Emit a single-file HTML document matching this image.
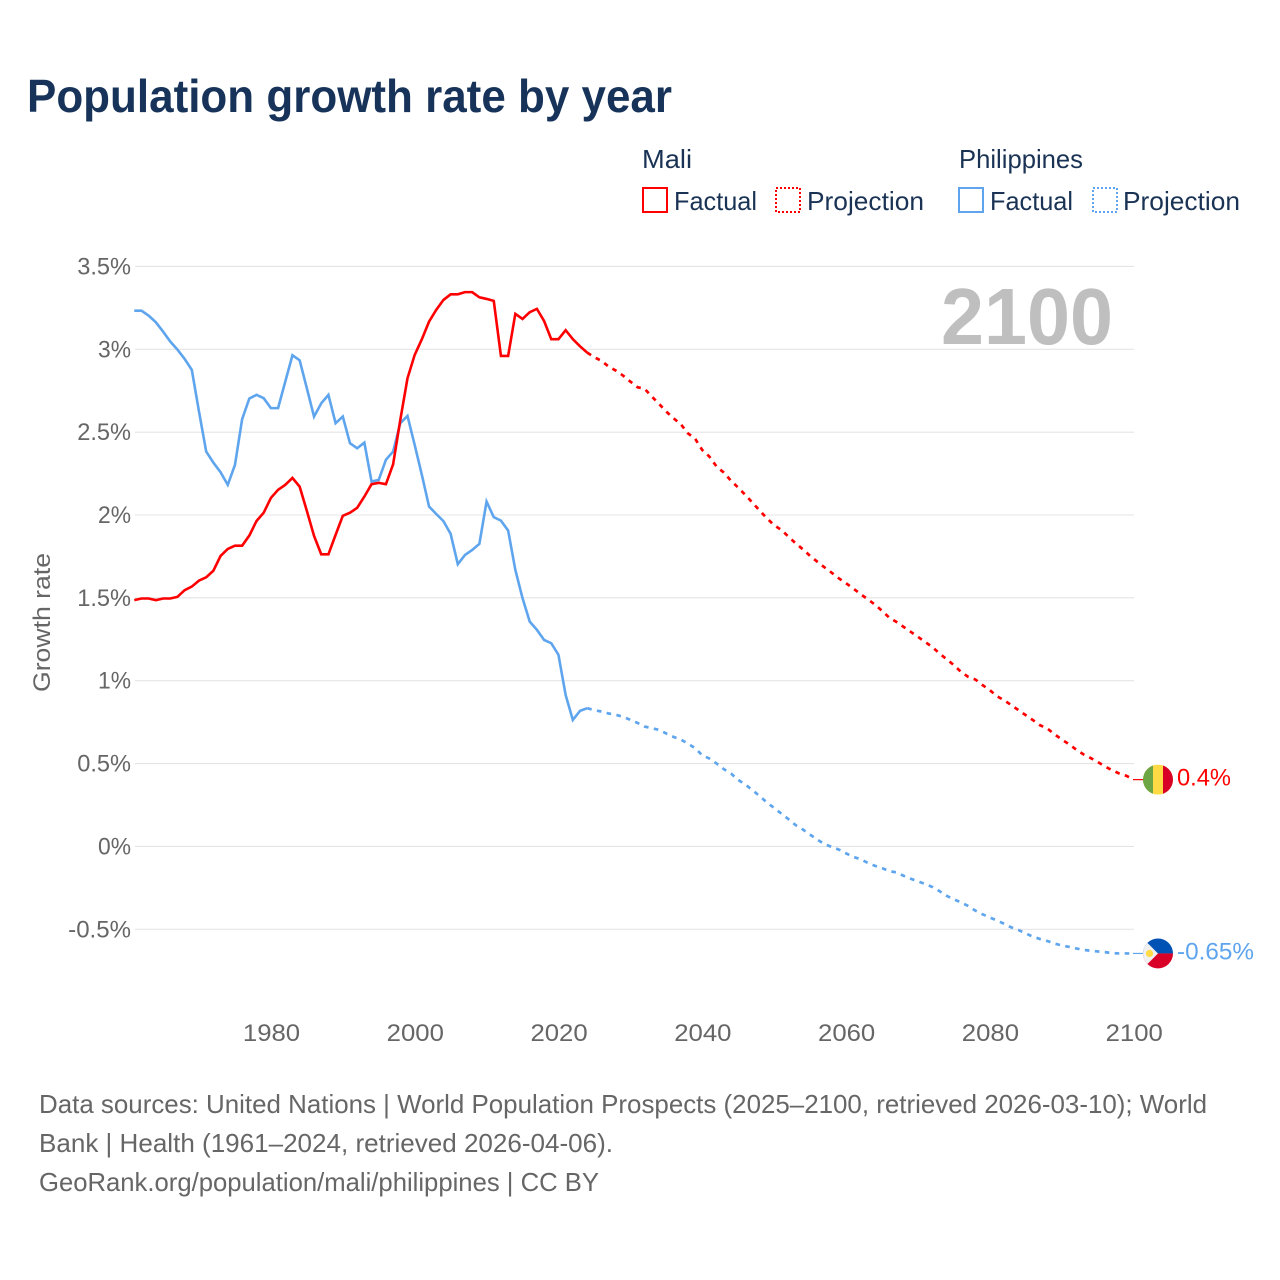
<!DOCTYPE html>
<html lang="en">
<head>
<meta charset="utf-8">
<title>Population growth rate by year</title>
<style>
html,body{margin:0;padding:0;background:#fff;}
svg{display:block;}
text{font-family:"Liberation Sans",sans-serif;}
</style>
</head>
<body>
<svg id="chart" xmlns="http://www.w3.org/2000/svg" width="1280" height="1280" viewBox="0 0 1280 1280">
  <rect x="0" y="0" width="1280" height="1280" fill="#ffffff"/>
  <defs>
    <clipPath id="flag-clip"><circle cx="0" cy="0" r="15"/></clipPath>
  </defs>

  <text x="27" y="112" font-size="46" font-weight="700" fill="#17335a" textLength="645" lengthAdjust="spacingAndGlyphs">Population growth rate by year</text>

  <g font-size="26" fill="#1a3355">
    <text x="642" y="168" textLength="50" lengthAdjust="spacingAndGlyphs">Mali</text>
    <text x="959" y="168" textLength="124" lengthAdjust="spacingAndGlyphs">Philippines</text>
    <rect x="643" y="188" width="24" height="24" fill="none" stroke="#ff0000" stroke-width="2"/>
    <text x="674" y="210" textLength="83" lengthAdjust="spacingAndGlyphs">Factual</text>
    <rect x="776" y="188" width="24" height="24" fill="none" stroke="#ff0000" stroke-width="2" stroke-dasharray="2 2"/>
    <text x="807" y="210" textLength="117" lengthAdjust="spacingAndGlyphs">Projection</text>
    <rect x="959" y="188" width="24" height="24" fill="none" stroke="#5ea5ee" stroke-width="2"/>
    <text x="990" y="210" textLength="83" lengthAdjust="spacingAndGlyphs">Factual</text>
    <rect x="1093" y="188" width="24" height="24" fill="none" stroke="#5ea5ee" stroke-width="2" stroke-dasharray="2 2"/>
    <text x="1123" y="210" textLength="117" lengthAdjust="spacingAndGlyphs">Projection</text>
  </g>

  <g id="grid"></g>
  <g id="y-ticks"></g>
  <g id="x-ticks"></g>

  <text transform="translate(50,622.5) rotate(-90)" text-anchor="middle" font-size="24" fill="#666666" textLength="139" lengthAdjust="spacingAndGlyphs">Growth rate</text>

  <text x="941" y="344" font-size="80" font-weight="700" fill="#bfbfbf" textLength="172" lengthAdjust="spacingAndGlyphs">2100</text>

  <g id="series"></g>

  <g id="flag-mali" clip-path="url(#flag-clip)">
    <rect x="-15" y="-15" width="30" height="30" fill="#ffda44"/>
    <rect x="-15" y="-15" width="10" height="30" fill="#6da544"/>
    <rect x="5" y="-15" width="10" height="30" fill="#d80027"/>
  </g>
  <g id="flag-philippines" clip-path="url(#flag-clip)">
    <rect x="-15" y="-15" width="30" height="15" fill="#0052b4"/>
    <rect x="-15" y="0" width="30" height="15" fill="#d80027"/>
    <polygon points="-15,-15 0,0 -15,15" fill="#f0f0f0"/>
    <circle cx="-8.5" cy="0" r="3.6" fill="#ffda44"/>
  </g>

  <g id="end-labels"></g>

  <g font-size="26" fill="#666666">
    <text x="39" y="1113" textLength="1168" lengthAdjust="spacingAndGlyphs">Data sources: United Nations | World Population Prospects (2025–2100, retrieved 2026-03-10); World</text>
    <text x="39" y="1152" textLength="574" lengthAdjust="spacingAndGlyphs">Bank | Health (1961–2024, retrieved 2026-04-06).</text>
    <text x="39" y="1191" textLength="560" lengthAdjust="spacingAndGlyphs">GeoRank.org/population/mali/philippines | CC BY</text>
  </g>
</svg>

<script>
const factualYears = [1961,1962,1963,1964,1965,1966,1967,1968,1969,1970,1971,1972,1973,1974,1975,1976,1977,1978,1979,1980,1981,1982,1983,1984,1985,1986,1987,1988,1989,1990,1991,1992,1993,1994,1995,1996,1997,1998,1999,2000,2001,2002,2003,2004,2005,2006,2007,2008,2009,2010,2011,2012,2013,2014,2015,2016,2017,2018,2019,2020,2021,2022,2023,2024];
const projectionYears = [2024,2025,2026,2027,2028,2029,2030,2031,2032,2033,2034,2035,2036,2037,2038,2039,2040,2041,2042,2043,2044,2045,2046,2047,2048,2049,2050,2051,2052,2053,2054,2055,2056,2057,2058,2059,2060,2061,2062,2063,2064,2065,2066,2067,2068,2069,2070,2071,2072,2073,2074,2075,2076,2077,2078,2079,2080,2081,2082,2083,2084,2085,2086,2087,2088,2089,2090,2091,2092,2093,2094,2095,2096,2097,2098,2099,2100];
const maliFactual = [1.486,1.496,1.496,1.486,1.496,1.496,1.506,1.546,1.568,1.604,1.624,1.664,1.753,1.795,1.815,1.815,1.876,1.964,2.014,2.103,2.152,2.182,2.224,2.171,2.025,1.874,1.763,1.763,1.88,1.995,2.014,2.043,2.111,2.186,2.194,2.186,2.306,2.574,2.825,2.966,3.061,3.167,3.238,3.298,3.332,3.332,3.345,3.345,3.314,3.304,3.292,2.96,2.96,3.214,3.183,3.224,3.244,3.171,3.061,3.061,3.115,3.061,3.018,2.98];
const philippinesFactual = [3.233,3.233,3.203,3.163,3.107,3.047,2.998,2.942,2.876,2.624,2.383,2.316,2.258,2.182,2.302,2.578,2.703,2.725,2.705,2.645,2.645,2.805,2.964,2.934,2.765,2.594,2.674,2.725,2.554,2.594,2.433,2.403,2.437,2.202,2.212,2.333,2.383,2.554,2.598,2.423,2.242,2.051,2.006,1.963,1.886,1.703,1.759,1.789,1.826,2.081,1.987,1.966,1.906,1.669,1.498,1.357,1.307,1.246,1.226,1.156,0.914,0.763,0.818,0.834];
const maliProjection = [2.98,2.952,2.93,2.895,2.871,2.841,2.805,2.771,2.761,2.714,2.67,2.624,2.584,2.549,2.493,2.461,2.392,2.352,2.292,2.256,2.207,2.165,2.121,2.074,2.026,1.98,1.938,1.91,1.869,1.829,1.793,1.753,1.718,1.684,1.652,1.618,1.588,1.557,1.523,1.492,1.46,1.422,1.381,1.355,1.325,1.295,1.265,1.234,1.204,1.164,1.13,1.094,1.053,1.023,1.007,0.973,0.943,0.906,0.882,0.852,0.822,0.792,0.762,0.731,0.711,0.677,0.645,0.617,0.585,0.556,0.534,0.51,0.483,0.46,0.44,0.426,0.403];
const philippinesProjection = [0.834,0.822,0.814,0.802,0.794,0.782,0.764,0.745,0.723,0.713,0.703,0.681,0.661,0.645,0.621,0.593,0.55,0.53,0.5,0.466,0.44,0.401,0.373,0.339,0.303,0.265,0.232,0.198,0.164,0.128,0.102,0.071,0.041,0.014,-0.003,-0.019,-0.042,-0.063,-0.077,-0.099,-0.117,-0.131,-0.149,-0.157,-0.177,-0.195,-0.211,-0.227,-0.245,-0.27,-0.298,-0.32,-0.338,-0.36,-0.388,-0.41,-0.429,-0.447,-0.467,-0.489,-0.505,-0.525,-0.545,-0.559,-0.571,-0.586,-0.598,-0.606,-0.616,-0.624,-0.63,-0.634,-0.638,-0.644,-0.646,-0.646,-0.646];
const yTickValues = [-0.5,0,0.5,1,1.5,2,2.5,3,3.5];
const yTickLabels = ['-0.5%','0%','0.5%','1%','1.5%','2%','2.5%','3%','3.5%'];
const xTickYears = [1980,2000,2020,2040,2060,2080,2100];
const endValueLabels = ['0.4%','-0.65%'];

const NS = 'http://www.w3.org/2000/svg';
const RED = '#ff0000';
const BLUE = '#5ea5ee';
const PLOT_LEFT = 135;
const PLOT_RIGHT = 1134;

function xScale(year) {
  return 134.3 + (year - 1961) * (1133.6 - 134.3) / (2100 - 1961);
}
function yScale(value) {
  return 846.4 - value * 165.7;
}
function glyphWidth(label) {
  let w = 0;
  for (const c of label) {
    if (c === '%') w += 18.7;
    else if (c === '.') w += 6.5;
    else if (c === '-') w += 9;
    else w += 14.3;
  }
  return w;
}
function pathFrom(years, values) {
  return values.map((v, i) => (i ? 'L' : 'M') + xScale(years[i]).toFixed(2) + ' ' + yScale(v).toFixed(2)).join(' ');
}
function makeEl(tag, attrs, parent) {
  const el = document.createElementNS(NS, tag);
  for (const k in attrs) el.setAttribute(k, attrs[k]);
  parent.appendChild(el);
  return el;
}

const gridGroup = document.getElementById('grid');
const yTickGroup = document.getElementById('y-ticks');
yTickValues.forEach((v, i) => {
  const y = yScale(v);
  const line = makeEl('line', {x1: PLOT_LEFT, x2: PLOT_RIGHT, y1: y, y2: y, stroke: '#e4e4e4', 'stroke-width': 1.1}, gridGroup);
  
  
  const label = yTickLabels[i];
  const t = makeEl('text', {x: 131, y: yScale(v) + 8, 'text-anchor': 'end', 'font-size': 24, fill: '#666666', textLength: glyphWidth(label), lengthAdjust: 'spacingAndGlyphs'}, yTickGroup);
  t.textContent = label;
  
  
});

const xTickGroup = document.getElementById('x-ticks');
xTickYears.forEach((yr) => {
  const label = String(yr);
  const t = makeEl('text', {x: xScale(yr) + 0.6, y: 1041, 'text-anchor': 'middle', 'font-size': 24, fill: '#666666', textLength: glyphWidth(label), lengthAdjust: 'spacingAndGlyphs'}, xTickGroup);
  t.textContent = label;
  
  
});

const seriesGroup = document.getElementById('series');
const factualAttrs = {fill: 'none', 'stroke-width': 2.6, 'stroke-linejoin': 'miter'};
const projectionAttrs = {fill: 'none', 'stroke-width': 2.7, 'stroke-dasharray': '4.6 5.4'};

const philFactualPath = makeEl('path', Object.assign({d: pathFrom(factualYears, philippinesFactual), stroke: BLUE}, factualAttrs), seriesGroup);



const philProjPath = makeEl('path', Object.assign({d: pathFrom(projectionYears, philippinesProjection), stroke: BLUE}, projectionAttrs), seriesGroup);



const maliFactualPath = makeEl('path', Object.assign({d: pathFrom(factualYears, maliFactual), stroke: RED}, factualAttrs), seriesGroup);



const maliProjPath = makeEl('path', Object.assign({d: pathFrom(projectionYears, maliProjection), stroke: RED}, projectionAttrs), seriesGroup);



const FLAG_X = 1158;
const maliEnd = maliProjection[maliProjection.length - 1];
const philEnd = philippinesProjection[philippinesProjection.length - 1];

const maliLeader = makeEl('line', {x1: PLOT_RIGHT - 1, x2: FLAG_X - 15, y1: yScale(maliEnd), y2: yScale(maliEnd), stroke: RED, 'stroke-width': 1.2}, seriesGroup);



const philLeader = makeEl('line', {x1: PLOT_RIGHT - 1, x2: FLAG_X - 15, y1: yScale(philEnd), y2: yScale(philEnd), stroke: BLUE, 'stroke-width': 1.2}, seriesGroup);



document.getElementById('flag-mali').setAttribute('transform', 'translate(' + FLAG_X + ',' + yScale(maliEnd).toFixed(2) + ')');
document.getElementById('flag-philippines').setAttribute('transform', 'translate(' + FLAG_X + ',' + yScale(philEnd).toFixed(2) + ')');

const endGroup = document.getElementById('end-labels');
const maliEndLabel = makeEl('text', {x: 1177, y: yScale(maliEnd) + 6, 'font-size': 24, fill: RED, textLength: 54, lengthAdjust: 'spacingAndGlyphs'}, endGroup);
maliEndLabel.textContent = endValueLabels[0];



const philEndLabel = makeEl('text', {x: 1177, y: yScale(philEnd) + 6, 'font-size': 24, fill: BLUE, textLength: 77, lengthAdjust: 'spacingAndGlyphs'}, endGroup);
philEndLabel.textContent = endValueLabels[1];


</script>
</body>
</html>
